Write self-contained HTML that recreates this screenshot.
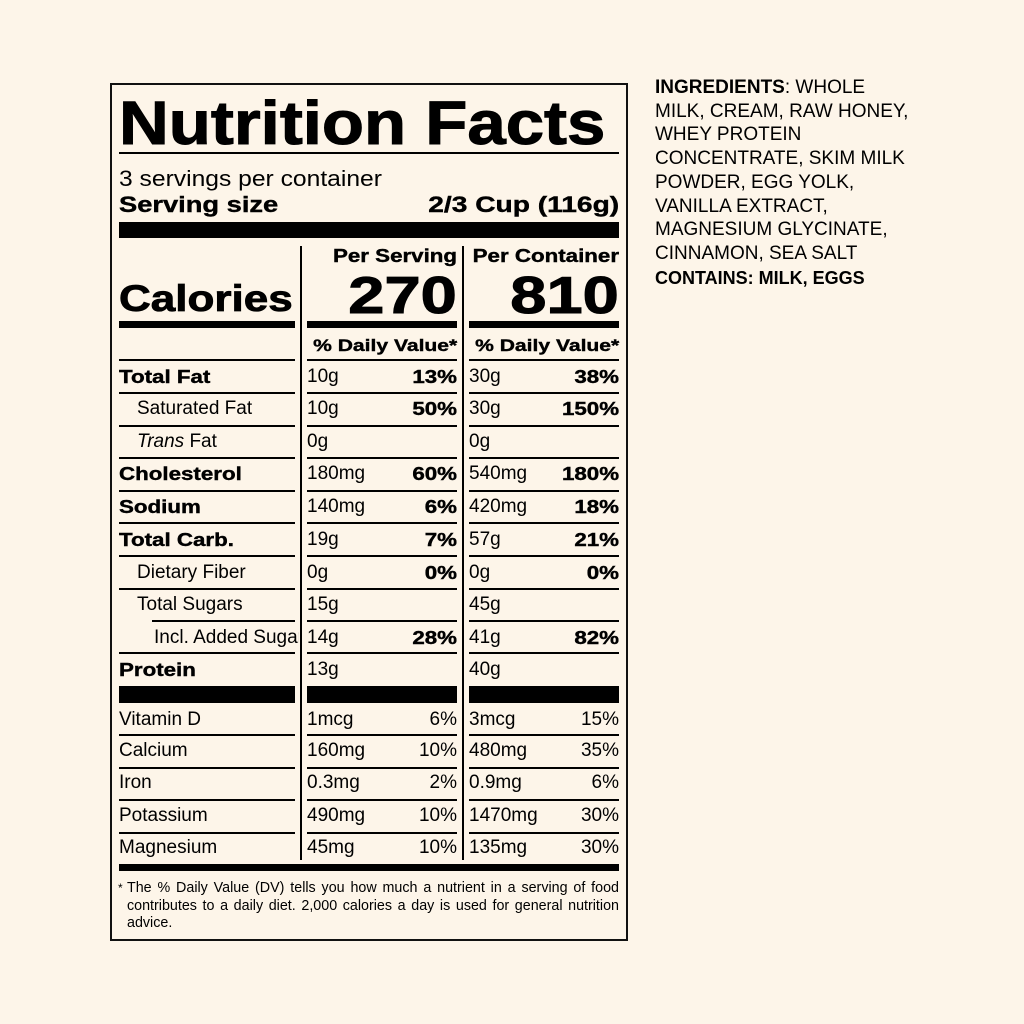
<!DOCTYPE html>
<html><head><meta charset="utf-8"><style>
body{margin:0;width:1024px;height:1024px;background:#fdf5e9;position:relative;overflow:hidden;font-family:"Liberation Sans",Arial,sans-serif;color:#000}
div{position:absolute}
.box{left:110px;top:83px;width:514px;height:854px;border:2px solid #111}
.t{white-space:nowrap;font-size:19px;line-height:20px}
.b{font-weight:bold;font-size:18px;transform:scaleX(1.24);transform-origin:left center;-webkit-text-stroke:0.4px #000}
.p2.b,.p3.b{transform-origin:right center}
.h{height:2px;background:#000}
.c1{left:119px}.c2{left:307px}.c3{left:469px}
.p2{right:567px;text-align:right}.p3{right:405px;text-align:right}
.ing{left:655px;top:76px;font-size:19px;line-height:23.7px;letter-spacing:0;white-space:nowrap}
</style></head><body>
<div class="box"></div>
<div class="t b" style="left:119px;top:88px;font-size:61px;line-height:70px;transform:scaleX(1.13);-webkit-text-stroke:1px #000">Nutrition Facts</div>
<div class="h" style="left:119px;width:500px;top:152px"></div>
<div class="t" style="left:119px;top:167px;font-size:22px;line-height:24px;transform:scaleX(1.12);transform-origin:left">3 servings per container</div>
<div class="t b" style="left:119px;top:193px;font-size:22px;line-height:24px">Serving size</div>
<div class="t b" style="right:405px;top:193px;font-size:22px;line-height:24px;transform-origin:right center;transform:scaleX(1.28)">2/3 Cup (116g)</div>
<div style="left:119px;width:500px;top:222px;height:16px;background:#000"></div>
<div style="left:300px;top:246px;width:2px;height:614px;background:#000"></div>
<div style="left:462px;top:246px;width:2px;height:614px;background:#000"></div>
<div class="t b p2" style="top:246px">Per Serving</div>
<div class="t b p3" style="top:246px">Per Container</div>
<div class="t b p2" style="top:268px;font-size:52px;line-height:56px;transform:scaleX(1.25);-webkit-text-stroke:1px #000">270</div>
<div class="t b p3" style="top:268px;font-size:52px;line-height:56px;transform:scaleX(1.25);-webkit-text-stroke:1px #000">810</div>
<div class="t b c1" style="top:278px;font-size:37px;line-height:42px;transform:scaleX(1.19);-webkit-text-stroke:0.8px #000">Calories</div>
<div style="left:119px;width:176px;top:321px;height:7px;background:#000"></div>
<div style="left:307px;width:150px;top:321px;height:7px;background:#000"></div>
<div style="left:469px;width:150px;top:321px;height:7px;background:#000"></div>
<div class="t b p2" style="top:336px;font-size:17px">% Daily Value*</div>
<div class="t b p3" style="top:336px;font-size:17px">% Daily Value*</div>

<div class="h" style="left:119px;width:176px;top:359px"></div><div class="h" style="left:307px;width:150px;top:359px"></div><div class="h" style="left:469px;width:150px;top:359px"></div>
<div class="h" style="left:119px;width:176px;top:392px"></div><div class="h" style="left:307px;width:150px;top:392px"></div><div class="h" style="left:469px;width:150px;top:392px"></div>
<div class="h" style="left:119px;width:176px;top:425px"></div><div class="h" style="left:307px;width:150px;top:425px"></div><div class="h" style="left:469px;width:150px;top:425px"></div>
<div class="h" style="left:119px;width:176px;top:457px"></div><div class="h" style="left:307px;width:150px;top:457px"></div><div class="h" style="left:469px;width:150px;top:457px"></div>
<div class="h" style="left:119px;width:176px;top:490px"></div><div class="h" style="left:307px;width:150px;top:490px"></div><div class="h" style="left:469px;width:150px;top:490px"></div>
<div class="h" style="left:119px;width:176px;top:522px"></div><div class="h" style="left:307px;width:150px;top:522px"></div><div class="h" style="left:469px;width:150px;top:522px"></div>
<div class="h" style="left:119px;width:176px;top:555px"></div><div class="h" style="left:307px;width:150px;top:555px"></div><div class="h" style="left:469px;width:150px;top:555px"></div>
<div class="h" style="left:119px;width:176px;top:588px"></div><div class="h" style="left:307px;width:150px;top:588px"></div><div class="h" style="left:469px;width:150px;top:588px"></div>
<div class="h" style="left:152px;width:143px;top:620px"></div><div class="h" style="left:307px;width:150px;top:620px"></div><div class="h" style="left:469px;width:150px;top:620px"></div>
<div class="h" style="left:119px;width:176px;top:652px"></div><div class="h" style="left:307px;width:150px;top:652px"></div><div class="h" style="left:469px;width:150px;top:652px"></div>
<div style="left:119px;width:176px;top:686px;height:17px;background:#000"></div><div style="left:307px;width:150px;top:686px;height:17px;background:#000"></div><div style="left:469px;width:150px;top:686px;height:17px;background:#000"></div>
<div class="h" style="left:119px;width:176px;top:734px"></div><div class="h" style="left:307px;width:150px;top:734px"></div><div class="h" style="left:469px;width:150px;top:734px"></div>
<div class="h" style="left:119px;width:176px;top:767px"></div><div class="h" style="left:307px;width:150px;top:767px"></div><div class="h" style="left:469px;width:150px;top:767px"></div>
<div class="h" style="left:119px;width:176px;top:799px"></div><div class="h" style="left:307px;width:150px;top:799px"></div><div class="h" style="left:469px;width:150px;top:799px"></div>
<div class="h" style="left:119px;width:176px;top:832px"></div><div class="h" style="left:307px;width:150px;top:832px"></div><div class="h" style="left:469px;width:150px;top:832px"></div>
<div style="left:119px;width:500px;top:864px;height:7px;background:#000"></div>

<div class="t b c1" style="top:367px">Total Fat</div><div class="t c2" style="top:367px">10g</div><div class="t b p2" style="top:367px">13%</div><div class="t c3" style="top:367px">30g</div><div class="t b p3" style="top:367px">38%</div>
<div class="t" style="left:137px;top:399px">Saturated Fat</div><div class="t c2" style="top:399px">10g</div><div class="t b p2" style="top:399px">50%</div><div class="t c3" style="top:399px">30g</div><div class="t b p3" style="top:399px">150%</div>
<div class="t" style="left:137px;top:432px"><i>Trans</i> Fat</div><div class="t c2" style="top:432px">0g</div><div class="t c3" style="top:432px">0g</div>
<div class="t b c1" style="top:464px">Cholesterol</div><div class="t c2" style="top:464px">180mg</div><div class="t b p2" style="top:464px">60%</div><div class="t c3" style="top:464px">540mg</div><div class="t b p3" style="top:464px">180%</div>
<div class="t b c1" style="top:497px">Sodium</div><div class="t c2" style="top:497px">140mg</div><div class="t b p2" style="top:497px">6%</div><div class="t c3" style="top:497px">420mg</div><div class="t b p3" style="top:497px">18%</div>
<div class="t b c1" style="top:530px">Total Carb.</div><div class="t c2" style="top:530px">19g</div><div class="t b p2" style="top:530px">7%</div><div class="t c3" style="top:530px">57g</div><div class="t b p3" style="top:530px">21%</div>
<div class="t" style="left:137px;top:563px">Dietary Fiber</div><div class="t c2" style="top:563px">0g</div><div class="t b p2" style="top:563px">0%</div><div class="t c3" style="top:563px">0g</div><div class="t b p3" style="top:563px">0%</div>
<div class="t" style="left:137px;top:595px">Total Sugars</div><div class="t c2" style="top:595px">15g</div><div class="t c3" style="top:595px">45g</div>
<div class="t" style="left:154px;top:628px;width:145px;overflow:hidden">Incl. Added Sugars</div><div class="t c2" style="top:628px">14g</div><div class="t b p2" style="top:628px">28%</div><div class="t c3" style="top:628px">41g</div><div class="t b p3" style="top:628px">82%</div>
<div class="t b c1" style="top:660px">Protein</div><div class="t c2" style="top:660px">13g</div><div class="t c3" style="top:660px">40g</div>
<div class="t c1" style="top:710px">Vitamin D</div><div class="t c2" style="top:710px">1mcg</div><div class="t p2" style="top:710px">6%</div><div class="t c3" style="top:710px">3mcg</div><div class="t p3" style="top:710px">15%</div>
<div class="t c1" style="top:741px">Calcium</div><div class="t c2" style="top:741px">160mg</div><div class="t p2" style="top:741px">10%</div><div class="t c3" style="top:741px">480mg</div><div class="t p3" style="top:741px">35%</div>
<div class="t c1" style="top:773px">Iron</div><div class="t c2" style="top:773px">0.3mg</div><div class="t p2" style="top:773px">2%</div><div class="t c3" style="top:773px">0.9mg</div><div class="t p3" style="top:773px">6%</div>
<div class="t c1" style="top:806px">Potassium</div><div class="t c2" style="top:806px">490mg</div><div class="t p2" style="top:806px">10%</div><div class="t c3" style="top:806px">1470mg</div><div class="t p3" style="top:806px">30%</div>
<div class="t c1" style="top:838px">Magnesium</div><div class="t c2" style="top:838px">45mg</div><div class="t p2" style="top:838px">10%</div><div class="t c3" style="top:838px">135mg</div><div class="t p3" style="top:838px">30%</div>

<div style="left:118px;top:882px;font-size:12px;line-height:12px">*</div>
<div style="left:127px;top:880px;width:492px;font-size:14.3px;line-height:17.6px;text-align:justify;text-align-last:left">The % Daily Value (DV) tells you how much a nutrient in a serving of food contributes to a daily diet. 2,000 calories a day is used for general nutrition advice.</div>

<div class="ing"><b>INGREDIENTS</b>: WHOLE<br>MILK, CREAM, RAW HONEY,<br>WHEY PROTEIN<br>CONCENTRATE, SKIM MILK<br>POWDER, EGG YOLK,<br>VANILLA EXTRACT,<br>MAGNESIUM GLYCINATE,<br>CINNAMON, SEA SALT</div>
<div class="t" style="left:655px;top:268px;font-size:18px;font-weight:bold;letter-spacing:0">CONTAINS: MILK, EGGS</div>
</body></html>
